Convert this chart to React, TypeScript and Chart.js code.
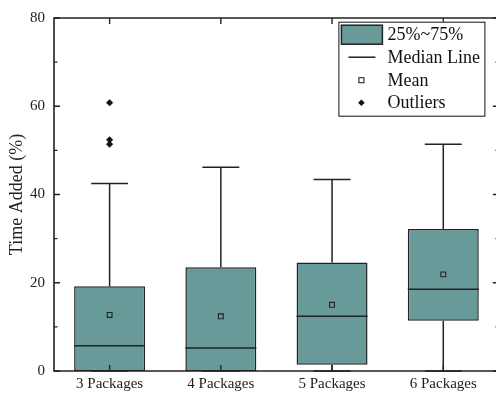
import React, { useEffect, useRef } from "react";
import { Chart, registerables } from "chart.js";

Chart.register(...registerables);

const categories = ["3 Packages", "4 Packages", "5 Packages", "6 Packages"];
const q1 = [0, 0, 1.4, 11.4];
const q3 = [19.2, 23.5, 24.6, 32.2];
const medians = [5.7, 5.2, 12.4, 18.5];
const means = [12.7, 12.4, 15.0, 21.9];
const whiskerLow = [0, 0, 0, 0];
const whiskerHigh = [42.5, 46.2, 43.4, 51.4];
const outlierCategory = ["3 Packages", "3 Packages", "3 Packages"];
const outlierValues = [60.8, 52.4, 51.4];
const yMajorTicks = [0, 20, 40, 60, 80];
const yMinorTicks = [10, 30, 50, 70];
const legendLabels = ["25%~75%", "Median Line", "Mean", "Outliers"];

const BOX_FILL = "#679a99";
const INK = "#222222";
const SERIF = "'Liberation Serif', 'Times New Roman', serif";

const boxExtras = {
  id: "boxExtras",
  afterDatasetsDraw(chart: any) {
    const ctx = chart.ctx;
    const xs = chart.scales.x;
    const ys = chart.scales.y;
    const meta = chart.getDatasetMeta(0);
    ctx.save();
    ctx.strokeStyle = INK;
    ctx.lineWidth = 1.5;
    categories.forEach((_, i) => {
      const cx = xs.getPixelForValue(i);
      const bw = meta.data[i].width;
      const capHalf = bw * 0.26;
      const yMed = ys.getPixelForValue(medians[i]);
      const yQ1 = ys.getPixelForValue(q1[i]);
      const yQ3 = ys.getPixelForValue(q3[i]);
      const yLo = ys.getPixelForValue(whiskerLow[i]);
      const yHi = ys.getPixelForValue(whiskerHigh[i]);
      ctx.beginPath();
      ctx.moveTo(cx, yQ3);
      ctx.lineTo(cx, yHi);
      ctx.moveTo(cx - capHalf, yHi);
      ctx.lineTo(cx + capHalf, yHi);
      if (yLo > yQ1 + 0.5) {
        ctx.moveTo(cx, yQ1);
        ctx.lineTo(cx, yLo);
      }
      ctx.moveTo(cx - capHalf, yLo);
      ctx.lineTo(cx + capHalf, yLo);
      ctx.moveTo(cx - bw / 2, yMed);
      ctx.lineTo(cx + bw / 2, yMed);
      ctx.stroke();
    });
    ctx.restore();
  },
};

const frame = {
  id: "frame",
  afterDraw(chart: any) {
    const ctx = chart.ctx;
    const { left, right, top, bottom } = chart.chartArea;
    const xs = chart.scales.x;
    const ys = chart.scales.y;
    ctx.save();
    ctx.strokeStyle = INK;
    ctx.lineWidth = 1.6;
    ctx.beginPath();
    ctx.rect(left, top, right - left, bottom - top);
    ctx.stroke();
    ctx.lineWidth = 1.4;
    ctx.beginPath();
    categories.forEach((_, i) => {
      const x = xs.getPixelForValue(i);
      ctx.moveTo(x, top);
      ctx.lineTo(x, top + 6);
      ctx.moveTo(x, bottom);
      ctx.lineTo(x, bottom - 6);
    });
    yMajorTicks.forEach((v) => {
      const y = ys.getPixelForValue(v);
      ctx.moveTo(left, y);
      ctx.lineTo(left + 6, y);
      ctx.moveTo(right, y);
      ctx.lineTo(right - 6, y);
    });
    yMinorTicks.forEach((v) => {
      const y = ys.getPixelForValue(v);
      ctx.moveTo(left, y);
      ctx.lineTo(left + 3.5, y);
      ctx.moveTo(right, y);
      ctx.lineTo(right - 3.5, y);
    });
    ctx.stroke();

    // legend
    const lx = right - 160.5;
    const ly = top + 3.7;
    const lw = 146;
    const lh = 94;
    ctx.fillStyle = "#ffffff";
    ctx.fillRect(lx, ly, lw, lh);
    ctx.lineWidth = 1;
    ctx.strokeStyle = "#111";
    ctx.strokeRect(lx + 0.5, ly + 0.5, lw, lh);
    const rowY = [ly + 13, ly + 35.5, ly + 58.5, ly + 81];
    const iconX = lx + 23;
    ctx.fillStyle = BOX_FILL;
    ctx.fillRect(lx + 3, rowY[0] - 9.5, 41, 19);
    ctx.lineWidth = 1.5;
    ctx.strokeStyle = INK;
    ctx.strokeRect(lx + 3, rowY[0] - 9.5, 41, 19);
    ctx.beginPath();
    ctx.moveTo(lx + 10, rowY[1]);
    ctx.lineTo(lx + 37, rowY[1]);
    ctx.stroke();
    ctx.lineWidth = 1.1;
    ctx.strokeRect(iconX - 2.5, rowY[2] - 2.5, 5, 5);
    ctx.fillStyle = "#111";
    ctx.beginPath();
    ctx.moveTo(iconX, rowY[3] - 3.3);
    ctx.lineTo(iconX + 3.3, rowY[3]);
    ctx.lineTo(iconX, rowY[3] + 3.3);
    ctx.lineTo(iconX - 3.3, rowY[3]);
    ctx.closePath();
    ctx.fill();
    ctx.fillStyle = "#111";
    ctx.font = `18px ${SERIF}`;
    ctx.textBaseline = "middle";
    ctx.textAlign = "left";
    legendLabels.forEach((t, i) => {
      ctx.fillText(t, lx + 49, rowY[i] + 1);
    });
    ctx.restore();
  },
};

export default function App() {
  const ref = useRef<HTMLCanvasElement | null>(null);
  useEffect(() => {
    if (!ref.current) return;
    const chart = new Chart(ref.current, {
      type: "bar",
      data: {
        labels: categories,
        datasets: [
          {
            type: "bar",
            order: 3,
            data: categories.map((_, i) => [q1[i], q3[i]]) as any,
            backgroundColor: BOX_FILL,
            borderColor: INK,
            borderWidth: 1.5,
            borderSkipped: false,
            categoryPercentage: 1,
            barPercentage: 0.638,
          },
          {
            type: "line",
            order: 1,
            data: means,
            showLine: false,
            pointStyle: "rect",
            pointRadius: 3.4,
            pointBackgroundColor: "rgba(0,0,0,0)",
            pointBorderColor: INK,
            pointBorderWidth: 1.1,
          } as any,
          {
            type: "line",
            order: 1,
            data: outlierValues.map((v, i) => ({ x: outlierCategory[i], y: v })),
            showLine: false,
            pointStyle: "rectRot",
            pointRadius: 3.3,
            pointBackgroundColor: "#111",
            pointBorderColor: "#111",
            pointBorderWidth: 0.5,
          } as any,
        ],
      },
      options: {
        responsive: false,
        animation: false,
        devicePixelRatio: 1,
        layout: { padding: { left: 0, top: 13, right: 4, bottom: 0 } },
        plugins: { legend: { display: false }, tooltip: { enabled: false } },
        scales: {
          x: {
            type: "category",
            offset: true,
            grid: { display: false, drawTicks: false },
            border: { display: false },
            ticks: { font: { family: SERIF, size: 15 }, color: INK, padding: 4 },
            afterFit: (s: any) => {
              s.height = 23;
            },
          },
          y: {
            min: 0,
            max: 80,
            grid: { display: false, drawTicks: false },
            border: { display: false },
            ticks: {
              stepSize: 20,
              font: { family: SERIF, size: 15 },
              color: INK,
              padding: 9,
            },
            title: {
              display: true,
              text: "Time Added (%)",
              font: { family: SERIF, size: 18 },
              color: INK,
              padding: { top: 6, bottom: 0 },
            },
            afterFit: (s: any) => {
              s.width = 54;
            },
          },
        },
      },
      plugins: [boxExtras, frame],
    });
    return () => chart.destroy();
  }, []);
  return (
    <div
      style={{
        position: "fixed",
        left: 0,
        top: 0,
        width: 496,
        height: 394,
        overflow: "hidden",
        background: "#fff",
      }}
    >
      <canvas ref={ref} width={504} height={394} style={{ display: "block" }} />
    </div>
  );
}
